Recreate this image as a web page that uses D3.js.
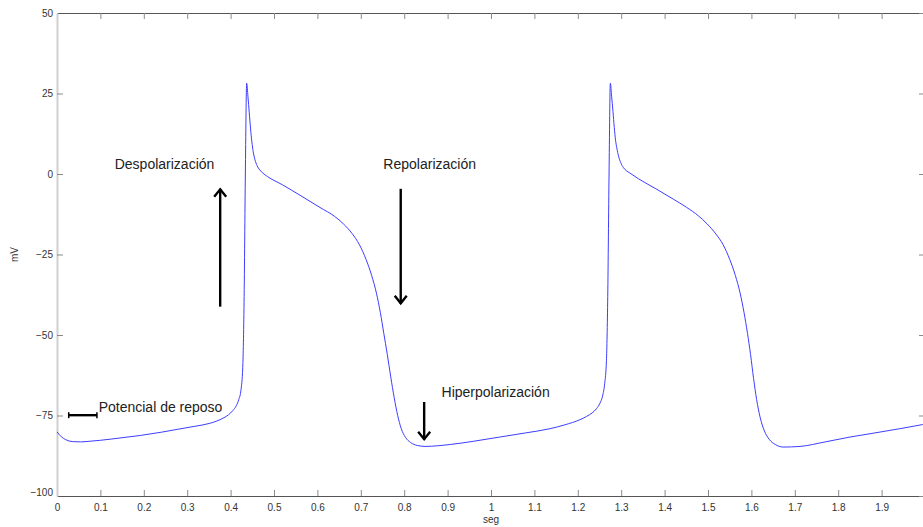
<!DOCTYPE html>
<html>
<head>
<meta charset="utf-8">
<script src="https://cdn.jsdelivr.net/npm/d3@7"></script>
<style>
  body { margin: 0; background: #fff; }
  svg { display: block; font-family: "Liberation Sans", Arial, sans-serif; }
</style>
</head>
<body>
<div id="chart"></div>
<script>
// potencial de accion: tiempo (seg) y voltaje (mV)
const tiempo = [
  0.000, 0.010, 0.020, 0.035, 0.054, 0.075, 0.100, 0.150, 0.192, 0.240,
  0.277, 0.320, 0.353, 0.380, 0.395, 0.405, 0.413, 0.419, 0.424, 0.428,
  0.431, 0.434, 0.437, 0.440, 0.443, 0.446, 0.449, 0.452, 0.456, 0.461,
  0.467, 0.475, 0.485, 0.520, 0.560, 0.606, 0.640, 0.660, 0.680, 0.697,
  0.712, 0.725, 0.736, 0.745, 0.753, 0.761, 0.769, 0.777, 0.785, 0.793,
  0.803, 0.815, 0.830, 0.848, 0.906, 0.960, 1.020, 1.080, 1.136, 1.170,
  1.205, 1.220, 1.233, 1.243, 1.251, 1.257, 1.262, 1.266, 1.269, 1.272,
  1.275, 1.278, 1.281, 1.284, 1.287, 1.290, 1.294, 1.299, 1.305, 1.312,
  1.320, 1.340, 1.380, 1.420, 1.450, 1.478, 1.498, 1.518, 1.535, 1.550,
  1.563, 1.574, 1.583, 1.591, 1.598, 1.605, 1.612, 1.620, 1.630, 1.641,
  1.655, 1.673, 1.712, 1.770, 1.827, 1.885, 1.942, 1.995
]
const voltaje = [
  -80.1, -81.6, -82.5, -83.1, -83.2, -83.0, -82.7, -81.9, -81.2, -80.2,
  -79.3, -78.3, -77.4, -76.0, -74.8, -73.5, -72.0, -70.0, -67.0, -60.0,
  -40.0, 0.0, 28.2, 24.0, 19.0, 14.0, 10.0, 7.0, 4.5, 2.6,
  1.3, 0.2, -0.8, -3.4, -6.6, -10.4, -13.2, -15.5, -18.5, -22.0,
  -26.5, -31.5, -37.0, -43.0, -49.5, -56.0, -63.0, -69.5, -75.0, -79.0,
  -81.8, -83.4, -84.3, -84.6, -84.0, -83.0, -81.7, -80.4, -79.1, -77.9,
  -76.3, -75.3, -74.2, -72.9, -71.2, -69.0, -65.0, -58.0, -38.0, 0.0,
  28.2, 24.0, 19.5, 14.5, 10.5, 8.0, 5.5, 3.5, 2.0, 1.0,
  0.3, -1.5, -4.6, -7.8, -10.3, -13.0, -15.5, -18.6, -22.0, -26.5,
  -31.5, -37.0, -43.0, -49.5, -56.0, -63.5, -70.0, -75.5, -79.8, -82.4,
  -84.0, -84.8, -84.6, -83.2, -81.7, -80.4, -79.1, -77.8
]

const xTicks = d3.range(0, 20).map(i => i / 10)
const yTicks = [-100, -75, -50, -25, 0, 25, 50]

// anotaciones
const etiquetas = ['Despolarización', 'Repolarización', 'Hiperpolarización', 'Potencial de reposo']
const etiquetaT = [0.133, 0.752, 0.886, 0.096]
const etiquetaV = [1.5, 1.5, -69.4, -74.0]
const flechaT = [0.376, 0.792, 0.846]
const flechaDesde = [-41.2, -4.6, -70.8]
const flechaHasta = [-4.6, -40.3, -82.5]
const reposoT = [0.027, 0.092]
const reposoV = -74.9

const width = 923
const height = 527
const margin = { top: 13, left: 57, right: -2, bottom: 31 }

const svg = d3.select('#chart').append('svg')
    .attr('width', width)
    .attr('height', height)

const x = d3.scaleLinear()
    .domain([0, 2])
    .range([margin.left, width - margin.right])

const y = d3.scaleLinear()
    .domain([-100, 50])
    .range([height - margin.bottom, margin.top])

const fmtX = d3.format('.1~f')

// ejes
const gx = svg.append('g')
    .attr('transform', `translate(0,${y(-100)})`)
    .call(d3.axisBottom(x).tickValues(xTicks).tickFormat(fmtX).tickSize(-6).tickSizeOuter(0).tickPadding(8))
const gxTop = svg.append('g')
    .attr('transform', `translate(0,${y(50)})`)
    .call(d3.axisTop(x).tickValues(xTicks).tickFormat('').tickSize(-6).tickSizeOuter(0))
const gy = svg.append('g')
    .attr('transform', `translate(${x(0)},0)`)
    .call(d3.axisLeft(y).tickValues(yTicks).tickSize(-6).tickSizeOuter(0).tickPadding(4))
const gyRight = svg.append('g')
    .attr('transform', `translate(${x(2)},0)`)
    .call(d3.axisRight(y).tickValues(yTicks).tickFormat('').tickSize(-6).tickSizeOuter(0))

;[gx, gxTop, gy, gyRight].forEach(g => {
    g.selectAll('.tick line').attr('stroke', '#8a8a8a')
    g.selectAll('.tick text')
        .attr('fill', '#333')
        .style('font-size', '10px')
        .style('font-family', '"Liberation Sans", Arial, sans-serif')
})
gx.select('.domain').attr('stroke', '#555')
gxTop.select('.domain').attr('stroke', '#555')
gy.select('.domain').attr('stroke', '#d0d0d0').attr('stroke-width', 2)
gyRight.select('.domain').attr('stroke', '#555')
gy.selectAll('.tick').filter(d => d === 50 || d === -100).select('line').remove()
gx.selectAll('.tick').filter(d => d === 0).select('line').remove()
gxTop.selectAll('.tick').filter(d => d === 0).remove()
gy.selectAll('.tick').filter(d => d === -100).select('text').attr('dy', '-0.1em')

// titulos de ejes
svg.append('text')
    .attr('x', (x(0) + x(2)) / 2)
    .attr('y', 523)
    .attr('text-anchor', 'middle')
    .attr('fill', '#333')
    .style('font-size', '10px')
    .text('seg')

svg.append('text')
    .attr('transform', `translate(18,${y(-25)}) rotate(-90)`)
    .attr('text-anchor', 'middle')
    .attr('fill', '#333')
    .style('font-size', '10px')
    .text('mV')

// curva
const puntos = tiempo.map((t, i) => [t, voltaje[i]])
const line = d3.line()
    .x(d => x(d[0]))
    .y(d => y(d[1]))
    .curve(d3.curveMonotoneX)

svg.append('path')
    .datum(puntos)
    .attr('fill', 'none')
    .attr('stroke', '#3d3dff')
    .attr('stroke-width', 1)
    .attr('d', line)

// textos
svg.selectAll('.etiqueta')
    .data(etiquetas)
    .enter().append('text')
    .attr('class', 'etiqueta')
    .attr('x', (d, i) => x(etiquetaT[i]))
    .attr('y', (d, i) => y(etiquetaV[i]))
    .attr('fill', '#222')
    .style('font-size', '14px')
    .text(d => d)

// flechas
const flechas = svg.append('g')
    .attr('stroke', '#000')
    .attr('stroke-width', 2.4)
    .attr('fill', 'none')

flechaT.forEach((t, i) => {
    const px = x(t)
    const y0 = y(flechaDesde[i])
    const y1 = y(flechaHasta[i])
    const dir = y1 < y0 ? 1 : -1
    flechas.append('line')
        .attr('x1', px).attr('y1', y0)
        .attr('x2', px).attr('y2', y1)
    flechas.append('path')
        .attr('d', `M${px - 6},${y1 + dir * 8} L${px},${y1 + dir * 0.5} L${px + 6},${y1 + dir * 8}`)
})

// barra de potencial de reposo
const barra = svg.append('g')
    .attr('stroke', '#000')
    .attr('stroke-width', 2.4)
barra.append('line')
    .attr('x1', x(reposoT[0])).attr('x2', x(reposoT[1]))
    .attr('y1', y(reposoV)).attr('y2', y(reposoV))
reposoT.forEach(t => {
    barra.append('line')
        .attr('stroke-width', 1.5)
        .attr('x1', x(t)).attr('x2', x(t))
        .attr('y1', y(reposoV) - 3).attr('y2', y(reposoV) + 3)
})
</script>
</body>
</html>
